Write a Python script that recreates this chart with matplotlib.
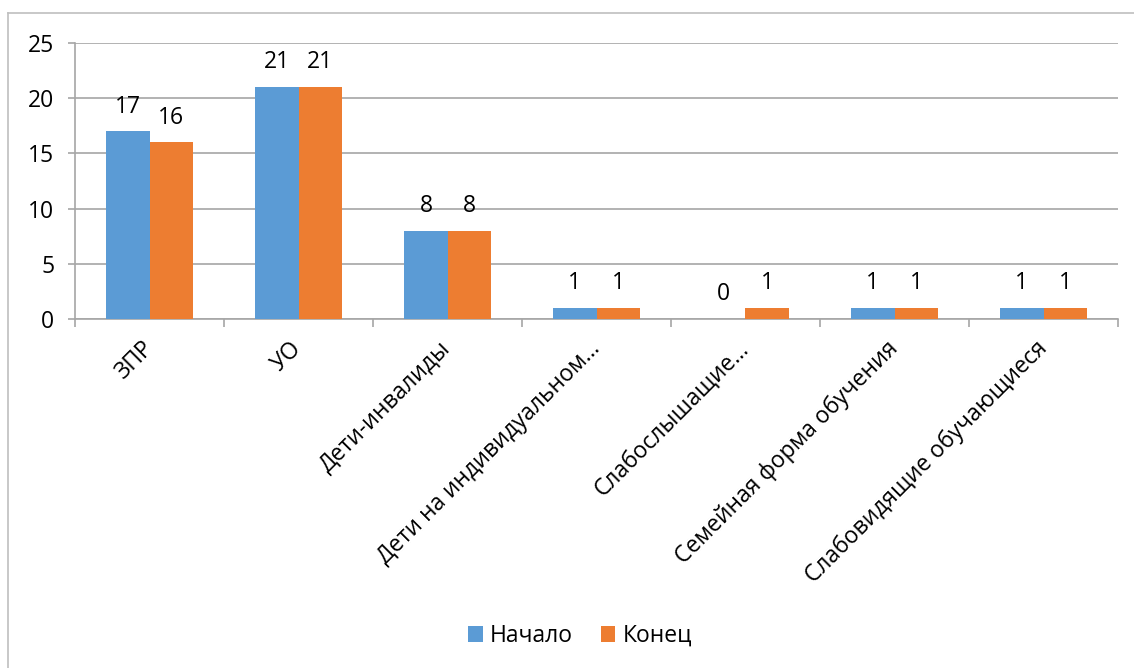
import matplotlib
matplotlib.use("Agg")
import matplotlib.pyplot as plt
from matplotlib.lines import Line2D
import numpy as np

categories = ["ЗПР", "УО", "Дети-инвалиды", "Дети на индивидуальном…",
              "Слабослышащие…", "Семейная форма обучения", "Слабовидящие обучающиеся"]
series_names = ["Начало", "Конец"]
start_vals = [17, 21, 8, 1, 0, 1, 1]
end_vals = [16, 21, 8, 1, 1, 1, 1]
y_ticks = [0, 5, 10, 15, 20, 25]

colors = ["#5B9BD5", "#ED7D31"]
grid_c = "#A6A6A6"
FONT = ["Open Sans", "DejaVu Sans"]
plt.rcParams['font.family'] = FONT
FS = 16.5

W, H = 1134, 668
fig = plt.figure(figsize=(W / 100, H / 100), dpi=100)
ax = fig.add_axes([75 / W, 1 - 319 / H, (1118 - 75) / W, (319 - 43) / H])

x = np.arange(len(categories))
bw = 0.29
for vals, name, c, off in [(start_vals, series_names[0], colors[0], -bw / 2),
                           (end_vals, series_names[1], colors[1], bw / 2)]:
    ax.bar(x + off, vals, width=bw, color=c, label=name, zorder=3)
    for xi, v in zip(x + off, vals):
        ax.annotate(str(v), (xi, v), xytext=(0, 13.5), textcoords="offset points",
                    ha="center", va="baseline", fontsize=FS, color="#000000")

ax.set_xlim(-0.5, len(categories) - 0.5)
ax.set_ylim(0, 25)
ax.set_yticks(y_ticks)
ax.set_yticklabels([str(t) for t in y_ticks], fontsize=FS)
ax.yaxis.grid(True, color=grid_c, linewidth=1.2, zorder=0)
ax.set_axisbelow(True)

ax.set_xticks(np.arange(len(categories) + 1) - 0.5)
ax.set_xticklabels([])
ax.set_xticks(x, minor=True)
ax.set_xticklabels(categories, minor=True, rotation=45, ha="right", va="center",
                   rotation_mode="anchor", fontsize=FS)
ax.tick_params(axis="x", which="minor", length=0, pad=19)
ax.tick_params(axis="x", which="major", length=6, width=1.2, color=grid_c, direction="out")
ax.tick_params(axis="y", length=5, width=1.2, color=grid_c, pad=10)

for s in ["top", "right"]:
    ax.spines[s].set_visible(False)
for s in ["left", "bottom"]:
    ax.spines[s].set_color(grid_c)
    ax.spines[s].set_linewidth(1.2)

fig.legend(loc="center", bbox_to_anchor=(580 / W, 1 - 636 / H), ncol=2,
           frameon=False, fontsize=FS, handlelength=0.65, handleheight=0.65,
           handletextpad=0.3, columnspacing=1.2)

# chart-area frame
frame_c = "#BFBFBF"
fig.add_artist(Line2D([8 / W, 8 / W], [0, 1 - 13 / H], transform=fig.transFigure,
                      color=frame_c, linewidth=1.2))
fig.add_artist(Line2D([8 / W, 1], [1 - 13 / H, 1 - 13 / H], transform=fig.transFigure,
                      color=frame_c, linewidth=1.2))

fig.savefig("out.png", dpi=100)
